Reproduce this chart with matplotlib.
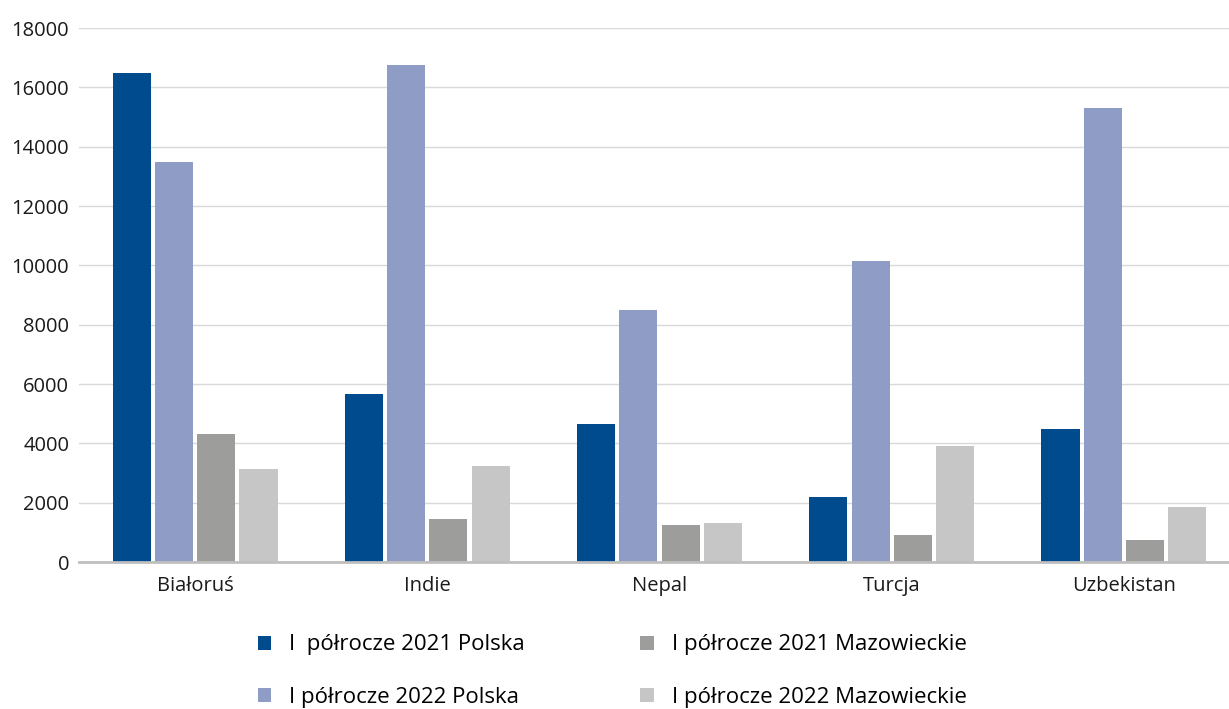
import matplotlib
matplotlib.use("Agg")
import matplotlib.pyplot as plt
import numpy as np

categories = ["Białoruś", "Indie", "Nepal", "Turcja", "Uzbekistan"]
pl_2021 = [16500, 5650, 4650, 2200, 4500]
pl_2022 = [13500, 16750, 8500, 10150, 15300]
maz_2021 = [4300, 1450, 1250, 900, 750]
maz_2022 = [3150, 3250, 1300, 3900, 1850]
series_labels = ["I  półrocze 2021 Polska", "I półrocze 2022 Polska",
                 "I półrocze 2021 Mazowieckie", "I półrocze 2022 Mazowieckie"]
yticks = [0, 2000, 4000, 6000, 8000, 10000, 12000, 14000, 16000, 18000]

colors = ["#004B8D", "#8F9CC5", "#9D9D9C", "#C6C6C6"]

plt.rcParams['font.family'] = ['Open Sans', 'DejaVu Sans']

fig = plt.figure(figsize=(12.29, 7.09), dpi=100)
W, H = 1229, 709
left, right = 79, 1240
bottom, top = 562, 28
ax = fig.add_axes([left / W, (H - bottom) / H, (right - left) / W, (bottom - top) / H])

x = np.arange(len(categories))
offsets = [-0.273, -0.091, 0.091, 0.273]
width = 0.164
data = [pl_2021, pl_2022, maz_2021, maz_2022]
handles = []
for d, off, c, lab in zip(data, offsets, colors, series_labels):
    h = ax.bar(x + off, d, width, color=c, label=lab, zorder=3)
    handles.append(h)

ax.set_xlim(-0.5, len(categories) - 0.5)
ax.set_ylim(0, 18000)
ax.set_yticks(yticks)
ax.set_yticklabels([str(v) for v in yticks], fontsize=14.5, color="#1a1a1a")
ax.set_xticks(x)
ax.set_xticklabels(categories, fontsize=14.5, color="#1a1a1a")
ax.tick_params(axis='both', length=0)
ax.tick_params(axis='x', pad=10)
ax.tick_params(axis='y', pad=7)
ax.grid(axis='y', color="#D9D9D9", linewidth=1, zorder=0)
for s in ["top", "right", "left"]:
    ax.spines[s].set_visible(False)
ax.spines["bottom"].set_color("#BFBFBF")
ax.spines["bottom"].set_linewidth(2)
ax.spines["bottom"].set_zorder(4)

leg = fig.legend(handles=handles, labels=series_labels, ncol=2,
                 loc="center left", bbox_to_anchor=(258 / W, 1 - 671 / H),
                 frameon=False, fontsize=16, handlelength=0.6, handleheight=0.6,
                 columnspacing=5.2, labelspacing=1.4, handletextpad=0.8,
                 borderpad=0, borderaxespad=0)

fig.savefig("out.png", dpi=100)
